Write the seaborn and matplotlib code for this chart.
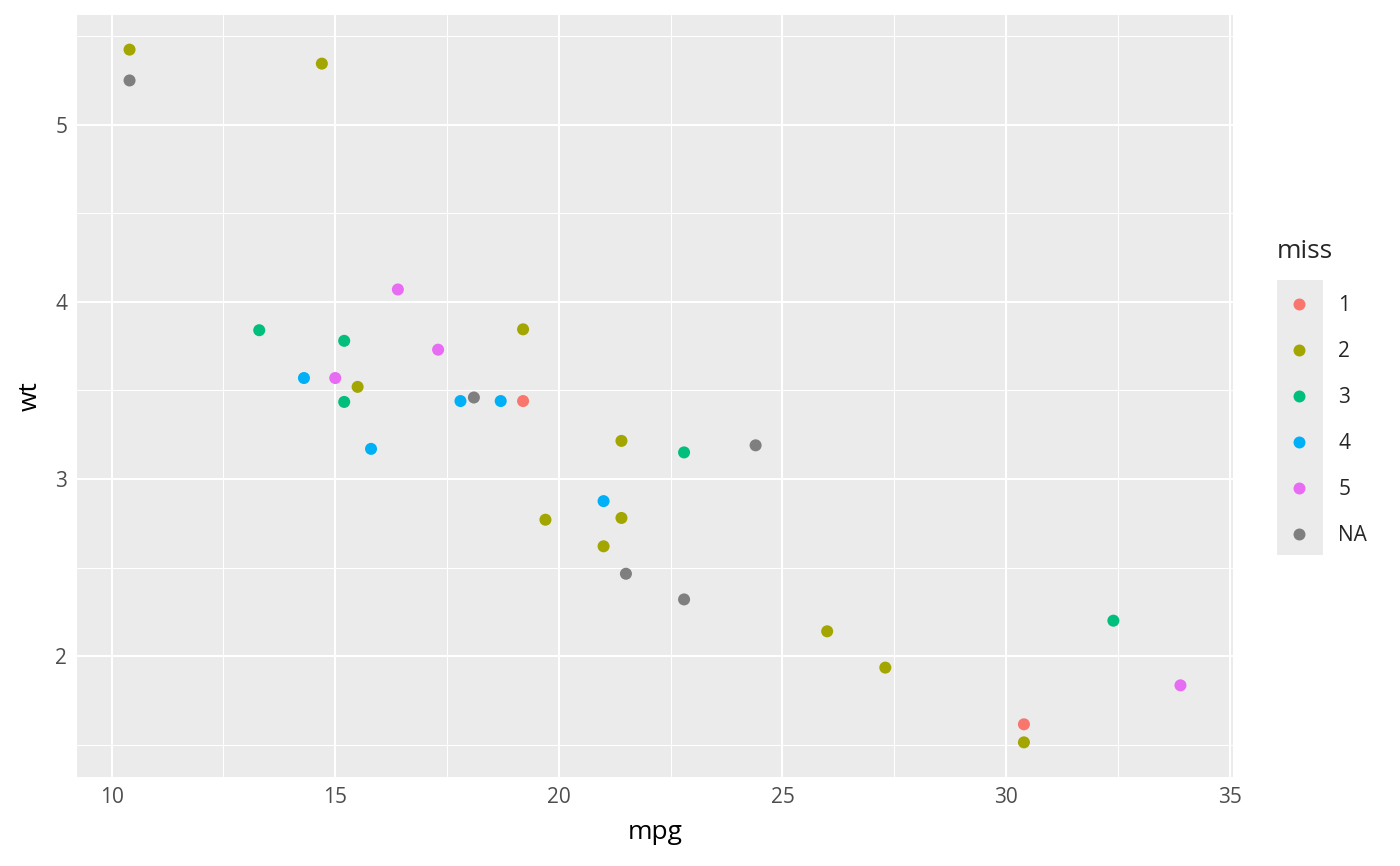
import pandas as pd
import matplotlib
matplotlib.use("Agg")
import matplotlib.pyplot as plt
import seaborn as sns
from matplotlib.lines import Line2D
from matplotlib.patches import Rectangle
from matplotlib.ticker import MultipleLocator

# data
mpg = [10.4, 10.4, 14.7, 13.3, 15.2, 16.4, 17.3, 19.2, 14.3, 15.0, 15.5,
       15.2, 15.8, 17.8, 18.1, 18.7, 19.2, 21.4, 22.8, 24.4, 21.0, 19.7,
       21.4, 21.0, 21.5, 22.8, 26.0, 27.3, 32.4, 33.9, 30.4, 30.4]
wt = [5.424, 5.250, 5.345, 3.840, 3.780, 4.070, 3.730, 3.845, 3.570, 3.570,
      3.520, 3.435, 3.170, 3.440, 3.460, 3.440, 3.440, 3.215, 3.150, 3.190,
      2.875, 2.770, 2.780, 2.620, 2.465, 2.320, 2.140, 1.935, 2.200, 1.835,
      1.615, 1.513]
miss = ["2", "NA", "2", "3", "3", "5", "5", "2", "4", "5", "2",
        "3", "4", "4", "NA", "4", "1", "2", "3", "NA", "4", "2",
        "2", "2", "NA", "NA", "2", "2", "3", "5", "1", "2"]
levels = ["1", "2", "3", "4", "5", "NA"]
colors = ["#F8766D", "#A3A500", "#00BF7D", "#00B0F6", "#E76BF3", "#7F7F7F"]

df = pd.DataFrame({"mpg": mpg, "wt": wt, "miss": miss})
pal = dict(zip(levels, colors))

sns.set_style("white")
plt.rcParams['font.family'] = ['Open Sans', 'DejaVu Sans']

fig = plt.figure(figsize=(14, 8.66), dpi=100)
W, H = 1400, 866
ax = fig.add_axes([77 / W, (H - 777) / H, (1233 - 77) / W, (777 - 15) / H])
ax.set_facecolor("#EBEBEB")

sns.scatterplot(data=df, x="mpg", y="wt", hue="miss", hue_order=levels,
                palette=pal, s=75, linewidth=0, legend=False, ax=ax, zorder=3)

xr = max(mpg) - min(mpg)
yr = max(wt) - min(wt)
ax.set_xlim(min(mpg) - 0.05 * xr, max(mpg) + 0.05 * xr)
ax.set_ylim(min(wt) - 0.05 * yr, max(wt) + 0.05 * yr)

ax.xaxis.set_major_locator(MultipleLocator(5))
ax.xaxis.set_minor_locator(MultipleLocator(2.5))
ax.yaxis.set_major_locator(MultipleLocator(1))
ax.yaxis.set_minor_locator(MultipleLocator(0.5))
ax.grid(which="major", color="white", linewidth=1.45, zorder=0)
ax.grid(which="minor", color="white", linewidth=0.75, zorder=0)
ax.set_axisbelow(True)
for s in ax.spines.values():
    s.set_visible(False)

ax.tick_params(which="major", length=4, width=1.4, color="#333333",
               labelcolor="#4D4D4D", labelsize=15, pad=3)
ax.tick_params(which="minor", length=0)
ax.set_xlabel("mpg", fontsize=19, color="black", labelpad=9)
ax.set_ylabel("wt", fontsize=19, color="black", labelpad=9)

# legend, ggplot-like: grey key column
fig.text(1277 / W, 1 - 252 / H, "miss", fontsize=19, va="center", ha="left")
fig.patches.append(Rectangle((1277 / W, 1 - 555 / H), 46 / W, 275 / H,
                             transform=fig.transFigure, facecolor="#EBEBEB",
                             edgecolor="none", zorder=0))
handles = [Line2D([], [], marker="o", linestyle="", markersize=8.6,
                  markerfacecolor=pal[l], markeredgewidth=0) for l in levels]
leg = fig.legend(handles, levels, loc="upper left",
                 bbox_to_anchor=(1289 / W, 1 - 295 / H), frameon=False,
                 fontsize=15, handlelength=1.0, handletextpad=1.36,
                 labelspacing=1.2, borderpad=0, borderaxespad=0)

fig.savefig("out.png", dpi=100)
